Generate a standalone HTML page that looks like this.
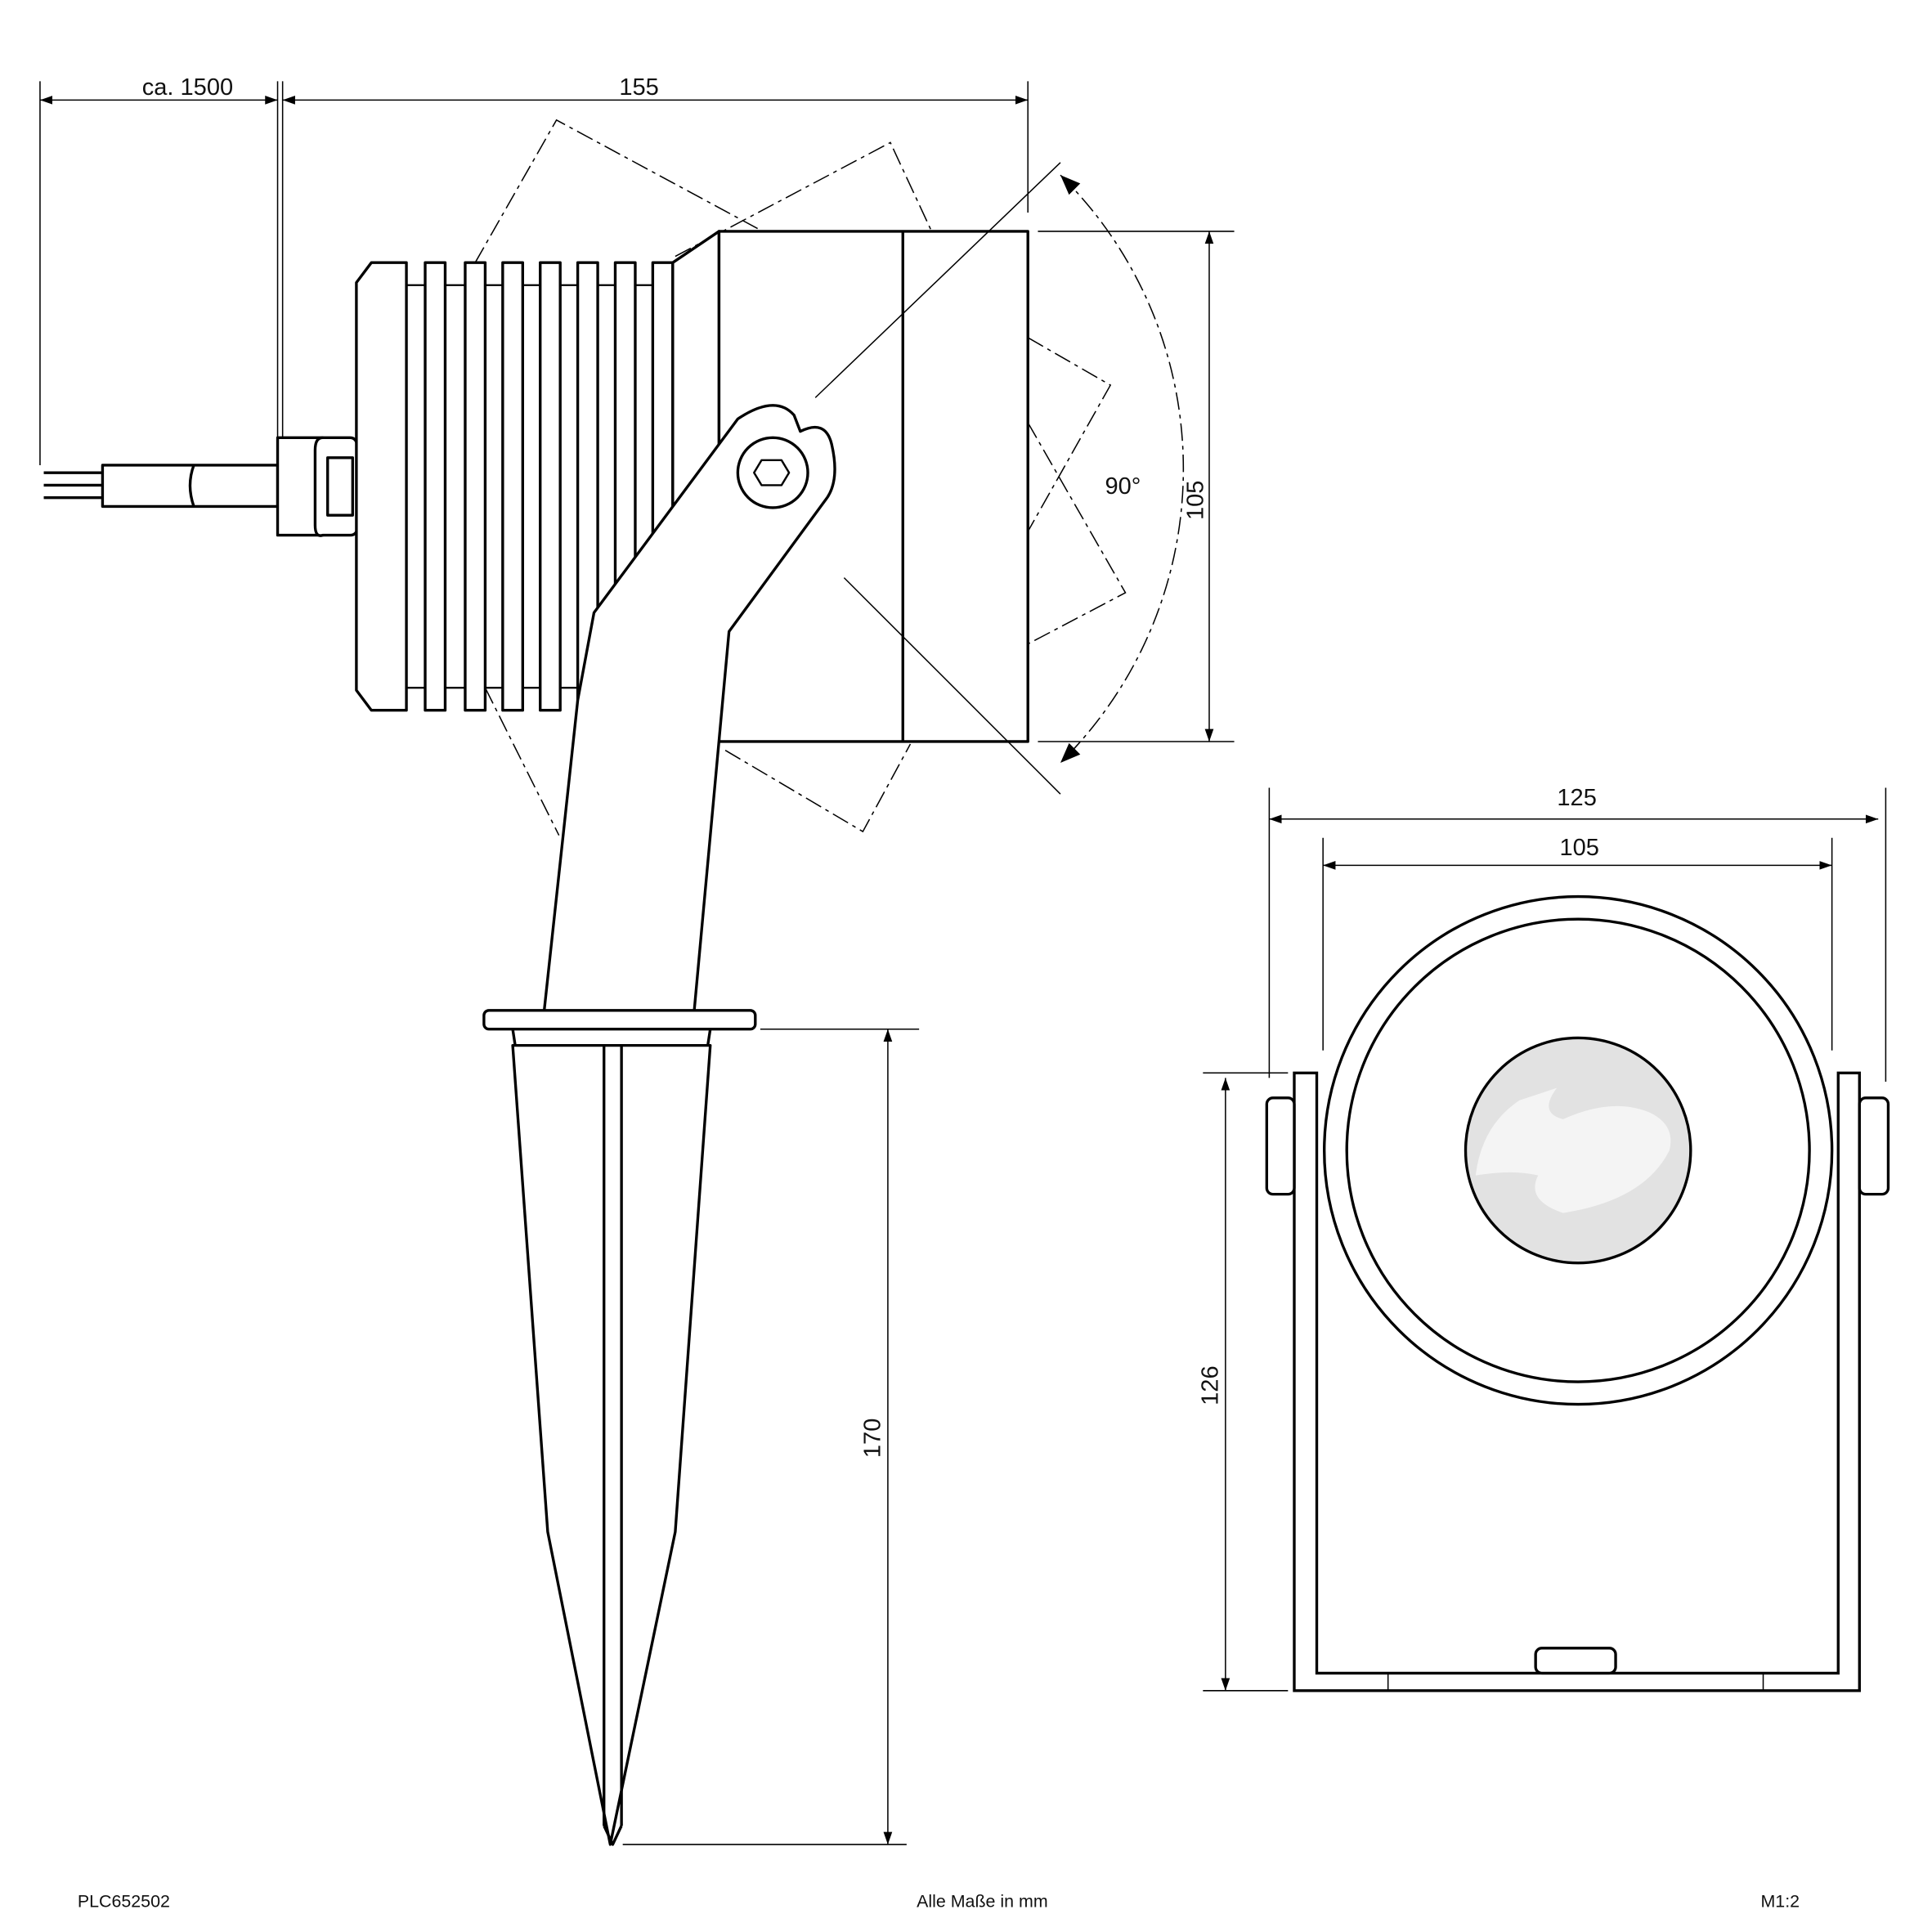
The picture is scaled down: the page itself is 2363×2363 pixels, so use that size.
<!DOCTYPE html>
<html><head><meta charset="utf-8"><style>
html,body{margin:0;padding:0;background:#fff}
svg{display:block}
text{font-family:"Liberation Sans",sans-serif;fill:#111}
</style></head><body>
<svg width="2363" height="2363" viewBox="0 0 1545 1545" xmlns="http://www.w3.org/2000/svg">
<defs>
<marker id="a" viewBox="0 0 10 10" refX="10" refY="5" markerWidth="10" markerHeight="10" markerUnits="userSpaceOnUse" orient="auto-start-reverse"><path d="M0,1.5 L10,5 L0,8.5z" fill="#000"/></marker>
<marker id="b" viewBox="0 0 10 10" refX="10" refY="5" markerWidth="16" markerHeight="16" markerUnits="userSpaceOnUse" orient="auto-start-reverse"><path d="M0,1 L10,5 L0,9z" fill="#000"/></marker>
</defs>
<g fill="none" stroke="#000" stroke-width="1">
<line x1="32" y1="65" x2="32" y2="372"/>
<line x1="222" y1="65" x2="222" y2="350"/>
<line x1="226" y1="65" x2="226" y2="350"/>
<line x1="822" y1="65" x2="822" y2="170"/>
<line x1="32" y1="80" x2="222" y2="80" marker-start="url(#a)" marker-end="url(#a)"/>
<line x1="226" y1="80" x2="822" y2="80" marker-start="url(#a)" marker-end="url(#a)"/>
<line x1="830" y1="185" x2="987" y2="185"/>
<line x1="830" y1="593" x2="987" y2="593"/>
<line x1="967" y1="185" x2="967" y2="593" marker-start="url(#a)" marker-end="url(#a)"/>
<line x1="608" y1="823" x2="735" y2="823"/>
<line x1="498" y1="1475" x2="725" y2="1475"/>
<line x1="710" y1="823" x2="710" y2="1475" marker-start="url(#a)" marker-end="url(#a)"/>
<g stroke-dasharray="14,4,3,4">
<polyline points="380,210 445,96 610,185"/>
<polyline points="540,205 712,114 745,185"/>
<polyline points="388,550 447,668"/>
<polyline points="580,600 690,665 728,595"/>
<polyline points="822,270 888,308 822,425"/>
<polyline points="822,338 900,474 822,515"/>
<path d="M848,140 A330,330 0 0 1 848,610" marker-start="url(#b)" marker-end="url(#b)"/>
</g>
</g>
<g fill="#fff" stroke="#000" stroke-width="2.2" stroke-linejoin="round">
<line x1="35" y1="378" x2="82" y2="378"/><line x1="35" y1="388" x2="82" y2="388"/><line x1="35" y1="398" x2="82" y2="398"/>
<rect x="82" y="372" width="140" height="33"/>
<path d="M155,372 q-6,16 0,33" fill="none"/>
<rect x="222" y="350" width="36" height="78"/>
<path d="M258,350 q-6,0 -6,10 v60 q0,10 6,8 h22 q6,0 6,-8 v-60 q0,-10 -6,-10z"/>
<rect x="262" y="366" width="20" height="46"/>
<path d="M297,210 h28 v358 h-28 l-12,-16 v-326z"/>
<line x1="325" y1="228" x2="540" y2="228" stroke-width="1.5"/>
<line x1="325" y1="550" x2="540" y2="550" stroke-width="1.5"/>
<rect x="340" y="210" width="16" height="358"/>
<rect x="372" y="210" width="16" height="358"/>
<rect x="402" y="210" width="16" height="358"/>
<rect x="432" y="210" width="16" height="358"/>
<rect x="462" y="210" width="16" height="358"/>
<rect x="492" y="210" width="16" height="358"/>
<rect x="522" y="210" width="16" height="358"/>
<path d="M538,210 L575,185 V593 L538,568z"/>
<rect x="575" y="185" width="247" height="408"/>
<line x1="722" y1="185" x2="722" y2="593"/>
</g>
<g stroke="#000" stroke-width="1">
<line x1="652" y1="318" x2="848" y2="130"/>
<line x1="675" y1="462" x2="848" y2="635"/>
</g>
<g fill="#fff" stroke="#000" stroke-width="2.2" stroke-linejoin="round">
<path d="M435,810 L462,560 L475,490 L590,335 Q620,315 635,332 L640,345 Q660,335 665,355 Q672,385 660,400 L583,505 L555,810z"/>
<circle cx="618" cy="378" r="28"/>
<polygon points="609,368 625,368 631,378 625,388 609,388 603,378" stroke-width="1.6"/>
<rect x="387" y="808" width="217" height="15" rx="4"/>
<path d="M410,823 H568 L566,836 H412z"/>
<path d="M410,836 L438,1225 L488,1475 L540,1225 L568,836z"/>
<line x1="483" y1="836" x2="483" y2="1460"/><line x1="497" y1="836" x2="497" y2="1460"/>
<path d="M483,1460 L490,1475 L497,1460" fill="none"/>
</g>
<g fill="none" stroke="#000" stroke-width="1">
<line x1="1015" y1="630" x2="1015" y2="862"/>
<line x1="1508" y1="630" x2="1508" y2="865"/>
<line x1="1058" y1="670" x2="1058" y2="840"/>
<line x1="1465" y1="670" x2="1465" y2="840"/>
<line x1="1015" y1="655" x2="1502" y2="655" marker-start="url(#a)" marker-end="url(#a)"/>
<line x1="1058" y1="692" x2="1465" y2="692" marker-start="url(#a)" marker-end="url(#a)"/>
<line x1="962" y1="858" x2="1030" y2="858"/>
<line x1="962" y1="1352" x2="1030" y2="1352"/>
<line x1="980" y1="862" x2="980" y2="1352" marker-start="url(#a)" marker-end="url(#a)"/>
</g>
<g fill="#fff" stroke="#000" stroke-width="2.2">
<path d="M1035,858 H1053 V1338 H1470 V858 H1487 V1352 H1035z"/>
<rect x="1013" y="878" width="22" height="77" rx="5"/>
<rect x="1487" y="878" width="23" height="77" rx="5"/>
<rect x="1228" y="1318" width="64" height="20" rx="5"/>
<circle cx="1262" cy="920" r="203"/>
<circle cx="1262" cy="920" r="185"/>
<circle cx="1262" cy="920" r="90" fill="#e2e2e2"/>
</g>
<path d="M1245,870 q-15,20 5,25 q40,-18 70,-5 q20,10 15,30 q-20,40 -85,50 q-30,-10 -20,-30 q-20,-5 -50,0 q5,-40 35,-60z" fill="#f4f4f4" stroke="none"/>
<line x1="1110" y1="1338" x2="1110" y2="1352" stroke="#000"/>
<line x1="1410" y1="1338" x2="1410" y2="1352" stroke="#000"/>
<g font-size="19">
<text x="150" y="76" text-anchor="middle">ca. 1500</text>
<text x="511" y="76" text-anchor="middle">155</text>
<text x="898" y="395" text-anchor="middle">90°</text>
<text transform="translate(962,400) rotate(-90)" text-anchor="middle">105</text>
<text transform="translate(704,1150) rotate(-90)" text-anchor="middle">170</text>
<text transform="translate(974,1108) rotate(-90)" text-anchor="middle">126</text>
<text x="1261" y="644" text-anchor="middle">125</text>
<text x="1263" y="684" text-anchor="middle">105</text>
</g>
<g font-size="14">
<text x="62" y="1525">PLC652502</text>
<text x="733" y="1525">Alle Maße in mm</text>
<text x="1408" y="1525">M1:2</text>
</g>
</svg>
</body></html>
